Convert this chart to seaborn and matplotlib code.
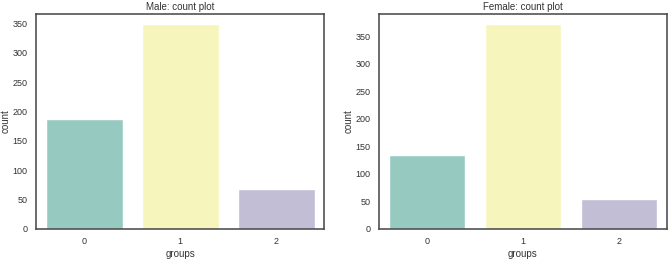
import numpy as np
import pandas as pd
import seaborn as sns
import matplotlib
matplotlib.use('Agg')
import matplotlib.pyplot as plt

groups = ['0', '1', '2']
male_counts = [188, 349, 68]
female_counts = [135, 372, 54]

sns.set_style('white')
plt.rcParams['font.family'] = ['Liberation Sans', 'DejaVu Sans']

fig, axes = plt.subplots(1, 2, figsize=(6.69, 2.59), dpi=100)
plt.subplots_adjust(left=0.054, right=0.997, top=0.946, bottom=0.116, wspace=0.19)

for ax, counts, title in zip(axes, [male_counts, female_counts],
                             ['Male: count plot', 'Female: count plot']):
    df = pd.DataFrame({'groups': groups, 'count': counts})
    sns.barplot(data=df, x='groups', y='count', hue='groups', palette='Set3',
                legend=False, ax=ax)
    ax.set_title(title, fontsize=7, pad=3, color='#333333')
    ax.set_xlabel('groups', fontsize=7, labelpad=2, color='#333333')
    ax.set_ylabel('count', fontsize=7, color='#333333')
    ax.yaxis.set_label_coords(-0.088, 0.5)
    ax.tick_params(labelsize=6.5, pad=2.5, labelcolor='#333333')
    for s in ax.spines.values():
        s.set_color('#444444')
        s.set_linewidth(1.1)

plt.savefig('out.png', dpi=100)
